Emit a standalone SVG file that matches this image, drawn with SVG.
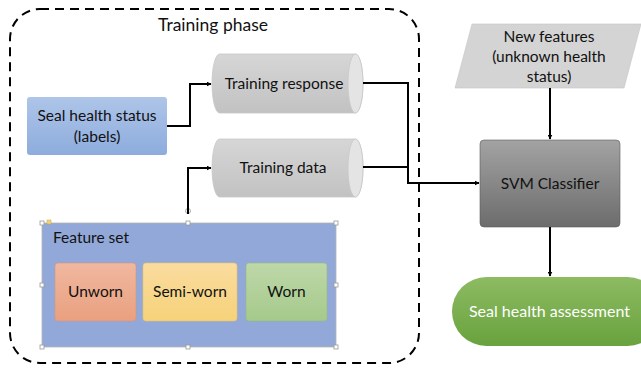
<svg xmlns="http://www.w3.org/2000/svg" width="641" height="371" viewBox="0 0 641 371">
<defs>
<linearGradient id="gBlue" x1="0" y1="0" x2="0" y2="1"><stop offset="0" stop-color="#AEC5E8"/><stop offset="1" stop-color="#8DACDD"/></linearGradient>
<linearGradient id="gCyl" x1="0" y1="0" x2="0" y2="1"><stop offset="0" stop-color="#D6D6D6"/><stop offset="1" stop-color="#C2C2C2"/></linearGradient>
<linearGradient id="gSvm" x1="0" y1="0" x2="0" y2="1"><stop offset="0" stop-color="#A3A3A3"/><stop offset="1" stop-color="#6C6C6C"/></linearGradient>
<linearGradient id="gGreen" x1="0" y1="0" x2="0" y2="1"><stop offset="0" stop-color="#8DBB62"/><stop offset="1" stop-color="#69A23E"/></linearGradient>
<linearGradient id="gUn" x1="0" y1="0" x2="0" y2="1"><stop offset="0" stop-color="#F0B8A0"/><stop offset="1" stop-color="#E9A07F"/></linearGradient>
<linearGradient id="gSemi" x1="0" y1="0" x2="0" y2="1"><stop offset="0" stop-color="#FADC9F"/><stop offset="1" stop-color="#F6D27A"/></linearGradient>
<linearGradient id="gWorn" x1="0" y1="0" x2="0" y2="1"><stop offset="0" stop-color="#BED8A8"/><stop offset="1" stop-color="#A5C98B"/></linearGradient>
<marker id="arr" viewBox="0 0 10 10" refX="9" refY="5" markerWidth="5" markerHeight="5" orient="auto" markerUnits="userSpaceOnUse"><path d="M0,0 L10,5 L0,10 z" fill="#000"/></marker>
<style>
text{font-family:"Lato","Open Sans","Liberation Sans",sans-serif;font-size:15.5px;fill:#111;text-anchor:middle}
.conn{fill:none;stroke:#000;stroke-width:2}
.h{fill:#fff;stroke:#999;stroke-width:0.8}
</style>
</defs>
<g id="training-phase">
<rect x="10" y="9" width="409" height="354" rx="30" ry="30" fill="none" stroke="#000" stroke-width="2" stroke-dasharray="9,6"/>
<text x="213" y="31" style="font-size:17.5px">Training phase</text>
</g>
<g id="seal-health-status">
<rect x="27" y="97" width="140" height="58" rx="3" fill="url(#gBlue)"/>
<text x="97" y="121">Seal health status</text>
<text x="97" y="142">(labels)</text>
</g>
<g id="training-response">
<path d="M219.5,54 H355.5 A7.5,29.5 0 0 1 355.5,113 H219.5 A7.5,29.5 0 0 1 219.5,54 Z" fill="url(#gCyl)" stroke="#C8C8C8" stroke-width="0.8"/>
<ellipse cx="355.5" cy="83.5" rx="7.5" ry="29.5" fill="#E4E4E4" stroke="#C8C8C8" stroke-width="0.8"/>
<text x="284" y="89">Training response</text>
</g>
<g id="training-data">
<path d="M219.5,139 H355.5 A7.5,29 0 0 1 355.5,197 H219.5 A7.5,29 0 0 1 219.5,139 Z" fill="url(#gCyl)" stroke="#C8C8C8" stroke-width="0.8"/>
<ellipse cx="355.5" cy="168" rx="7.5" ry="29" fill="#E4E4E4" stroke="#C8C8C8" stroke-width="0.8"/>
<text x="283" y="173">Training data</text>
</g>
<g id="feature-set">
<rect x="42" y="223" width="294" height="124" fill="#91A8D8" stroke="#B5B5B5" stroke-width="0.8"/>
<text x="53" y="243" style="text-anchor:start">Feature set</text>
<rect class="h" x="40" y="221" width="4" height="4"/>
<rect x="47" y="220" width="4" height="4" fill="#F4D27A" stroke="#C9A640" stroke-width="0.5"/>
<rect class="h" x="186" y="221" width="4" height="4"/>
<rect class="h" x="334" y="221" width="4" height="4"/>
<rect class="h" x="40" y="283" width="4" height="4"/>
<rect class="h" x="334" y="283" width="4" height="4"/>
<rect class="h" x="40" y="345" width="4" height="4"/>
<rect class="h" x="186" y="345" width="4" height="4"/>
<rect class="h" x="334" y="345" width="4" height="4"/>
<circle cx="188" cy="211" r="2.5" fill="#fff" stroke="#999" stroke-width="0.8"/>
</g>
<g id="unworn">
<rect x="55" y="263" width="81" height="58" rx="3" fill="url(#gUn)" stroke="#D89478" stroke-width="0.6"/>
<text x="95.5" y="297">Unworn</text>
</g>
<g id="semi-worn">
<rect x="143" y="263" width="94" height="58" rx="3" fill="url(#gSemi)" stroke="#E8C26A" stroke-width="0.6"/>
<text x="190" y="297">Semi-worn</text>
</g>
<g id="worn">
<rect x="246" y="263" width="81" height="58" rx="3" fill="url(#gWorn)" stroke="#97BB7E" stroke-width="0.6"/>
<text x="286.5" y="297">Worn</text>
</g>
<g id="new-features">
<polygon points="472,24 641,24 624,88 455,88" fill="#D4D4D4" stroke="#C4C4C4" stroke-width="0.6"/>
<text x="549" y="42">New features</text>
<text x="549" y="62">(unknown health</text>
<text x="549" y="82">status)</text>
</g>
<g id="svm-classifier">
<rect x="480" y="140" width="140" height="87" rx="4" fill="url(#gSvm)" stroke="#5A5A5A" stroke-width="0.6"/>
<text x="550" y="189">SVM Classifier</text>
</g>
<g id="seal-health-assessment">
<rect x="452" y="277" width="210" height="69" rx="34.5" fill="url(#gGreen)"/>
<text x="549.5" y="317" style="fill:#fff;font-size:16px">Seal health assessment</text>
</g>
<g id="connectors">
<path class="conn" d="M167,126 H190 V84 H211" marker-end="url(#arr)"/>
<path class="conn" d="M188,214 V168 H211" marker-end="url(#arr)"/>
<path class="conn" d="M363,83 H408 V183 H479" marker-end="url(#arr)"/>
<path class="conn" d="M363,167 H408"/>
<path class="conn" d="M550,88 V139" marker-end="url(#arr)"/>
<path class="conn" d="M550,227 V276" marker-end="url(#arr)"/>
</g>
</svg>
